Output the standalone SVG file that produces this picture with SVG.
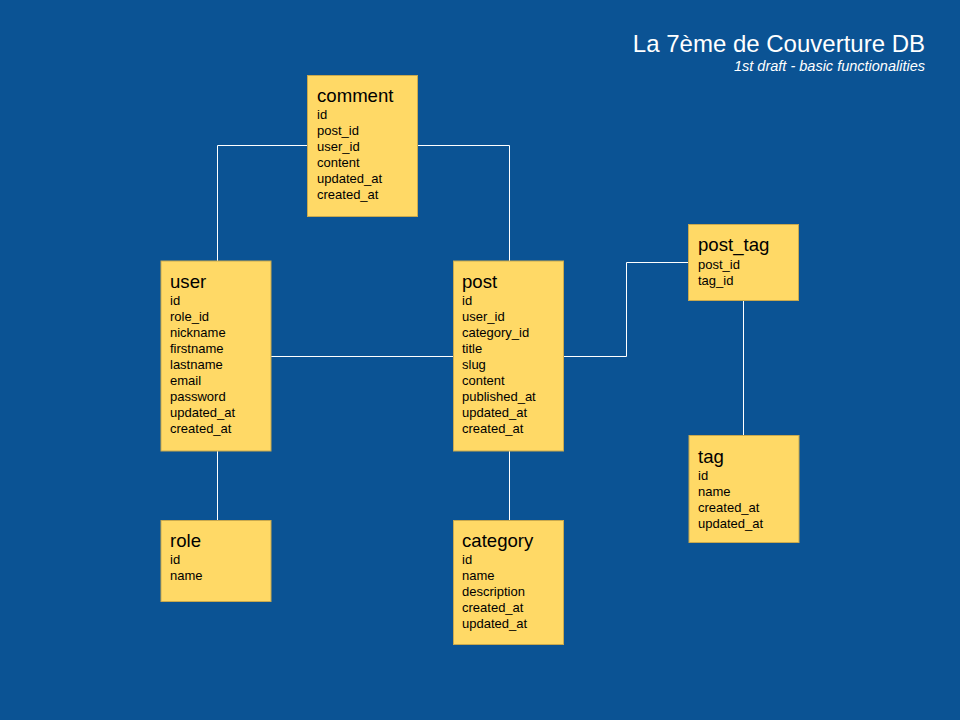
<svg xmlns="http://www.w3.org/2000/svg" width="960" height="720" viewBox="0 0 960 720">
<style>
.box{fill:#FFD966;stroke:#C9A94E;stroke-width:1}
.h{font-family:"Liberation Sans",Arial,sans-serif;font-size:18.6px;fill:#000}
.f{font-family:"Liberation Sans",Arial,sans-serif;font-size:13px;fill:#000}
.c{fill:none;stroke:#FFFFFF;stroke-width:1}
.t{font-family:"Liberation Sans",Arial,sans-serif;font-size:24px;fill:#FFFFFF;text-anchor:end}
.s{font-family:"Liberation Sans",Arial,sans-serif;font-size:14.5px;font-style:italic;fill:#FFFFFF;text-anchor:end}
</style>
<rect width="960" height="720" fill="#0B5394"/>
<text class="t" x="925" y="52">La 7ème de Couverture DB</text>
<text class="s" x="925" y="71">1st draft - basic functionalities</text>
<g id="connectors">
<polyline class="c" points="307.5,145.5 217.5,145.5 217.5,261"/>
<polyline class="c" points="417.5,145.5 509.5,145.5 509.5,261"/>
<line class="c" x1="271" y1="356.5" x2="453" y2="356.5"/>
<polyline class="c" points="563.5,356.5 626.5,356.5 626.5,262.5 688.5,262.5"/>
<line class="c" x1="743.5" y1="300" x2="743.5" y2="435"/>
<line class="c" x1="217.5" y1="451" x2="217.5" y2="520"/>
<line class="c" x1="509.5" y1="451" x2="509.5" y2="520"/>
</g>
<g id="comment">
<rect class="box" x="307.5" y="75.5" width="110" height="141"/>
<text class="h" x="317" y="102">comment</text>
<text class="f" x="317" y="119">id</text>
<text class="f" x="317" y="135">post_id</text>
<text class="f" x="317" y="151">user_id</text>
<text class="f" x="317" y="167">content</text>
<text class="f" x="317" y="183">updated_at</text>
<text class="f" x="317" y="199">created_at</text>
</g>
<g id="user">
<rect class="box" x="161" y="261" width="110" height="190"/>
<text class="h" x="170" y="288">user</text>
<text class="f" x="170" y="305">id</text>
<text class="f" x="170" y="321">role_id</text>
<text class="f" x="170" y="337">nickname</text>
<text class="f" x="170" y="353">firstname</text>
<text class="f" x="170" y="369">lastname</text>
<text class="f" x="170" y="385">email</text>
<text class="f" x="170" y="401">password</text>
<text class="f" x="170" y="417">updated_at</text>
<text class="f" x="170" y="433">created_at</text>
</g>
<g id="post">
<rect class="box" x="453.5" y="261" width="110" height="190"/>
<text class="h" x="462" y="288">post</text>
<text class="f" x="462" y="305">id</text>
<text class="f" x="462" y="321">user_id</text>
<text class="f" x="462" y="337">category_id</text>
<text class="f" x="462" y="353">title</text>
<text class="f" x="462" y="369">slug</text>
<text class="f" x="462" y="385">content</text>
<text class="f" x="462" y="401">published_at</text>
<text class="f" x="462" y="417">updated_at</text>
<text class="f" x="462" y="433">created_at</text>
</g>
<g id="post_tag">
<rect class="box" x="688.5" y="224.5" width="110" height="76"/>
<text class="h" x="698" y="251">post_tag</text>
<text class="f" x="698" y="269">post_id</text>
<text class="f" x="698" y="285">tag_id</text>
</g>
<g id="tag">
<rect class="box" x="689" y="435.5" width="110" height="107"/>
<text class="h" x="698" y="463">tag</text>
<text class="f" x="698" y="480">id</text>
<text class="f" x="698" y="496">name</text>
<text class="f" x="698" y="512">created_at</text>
<text class="f" x="698" y="528">updated_at</text>
</g>
<g id="role">
<rect class="box" x="161" y="520.5" width="110" height="81"/>
<text class="h" x="170" y="547">role</text>
<text class="f" x="170" y="564">id</text>
<text class="f" x="170" y="580">name</text>
</g>
<g id="category">
<rect class="box" x="453.5" y="520.5" width="110" height="124"/>
<text class="h" x="462" y="547">category</text>
<text class="f" x="462" y="564">id</text>
<text class="f" x="462" y="580">name</text>
<text class="f" x="462" y="596">description</text>
<text class="f" x="462" y="612">created_at</text>
<text class="f" x="462" y="628">updated_at</text>
</g>
</svg>
